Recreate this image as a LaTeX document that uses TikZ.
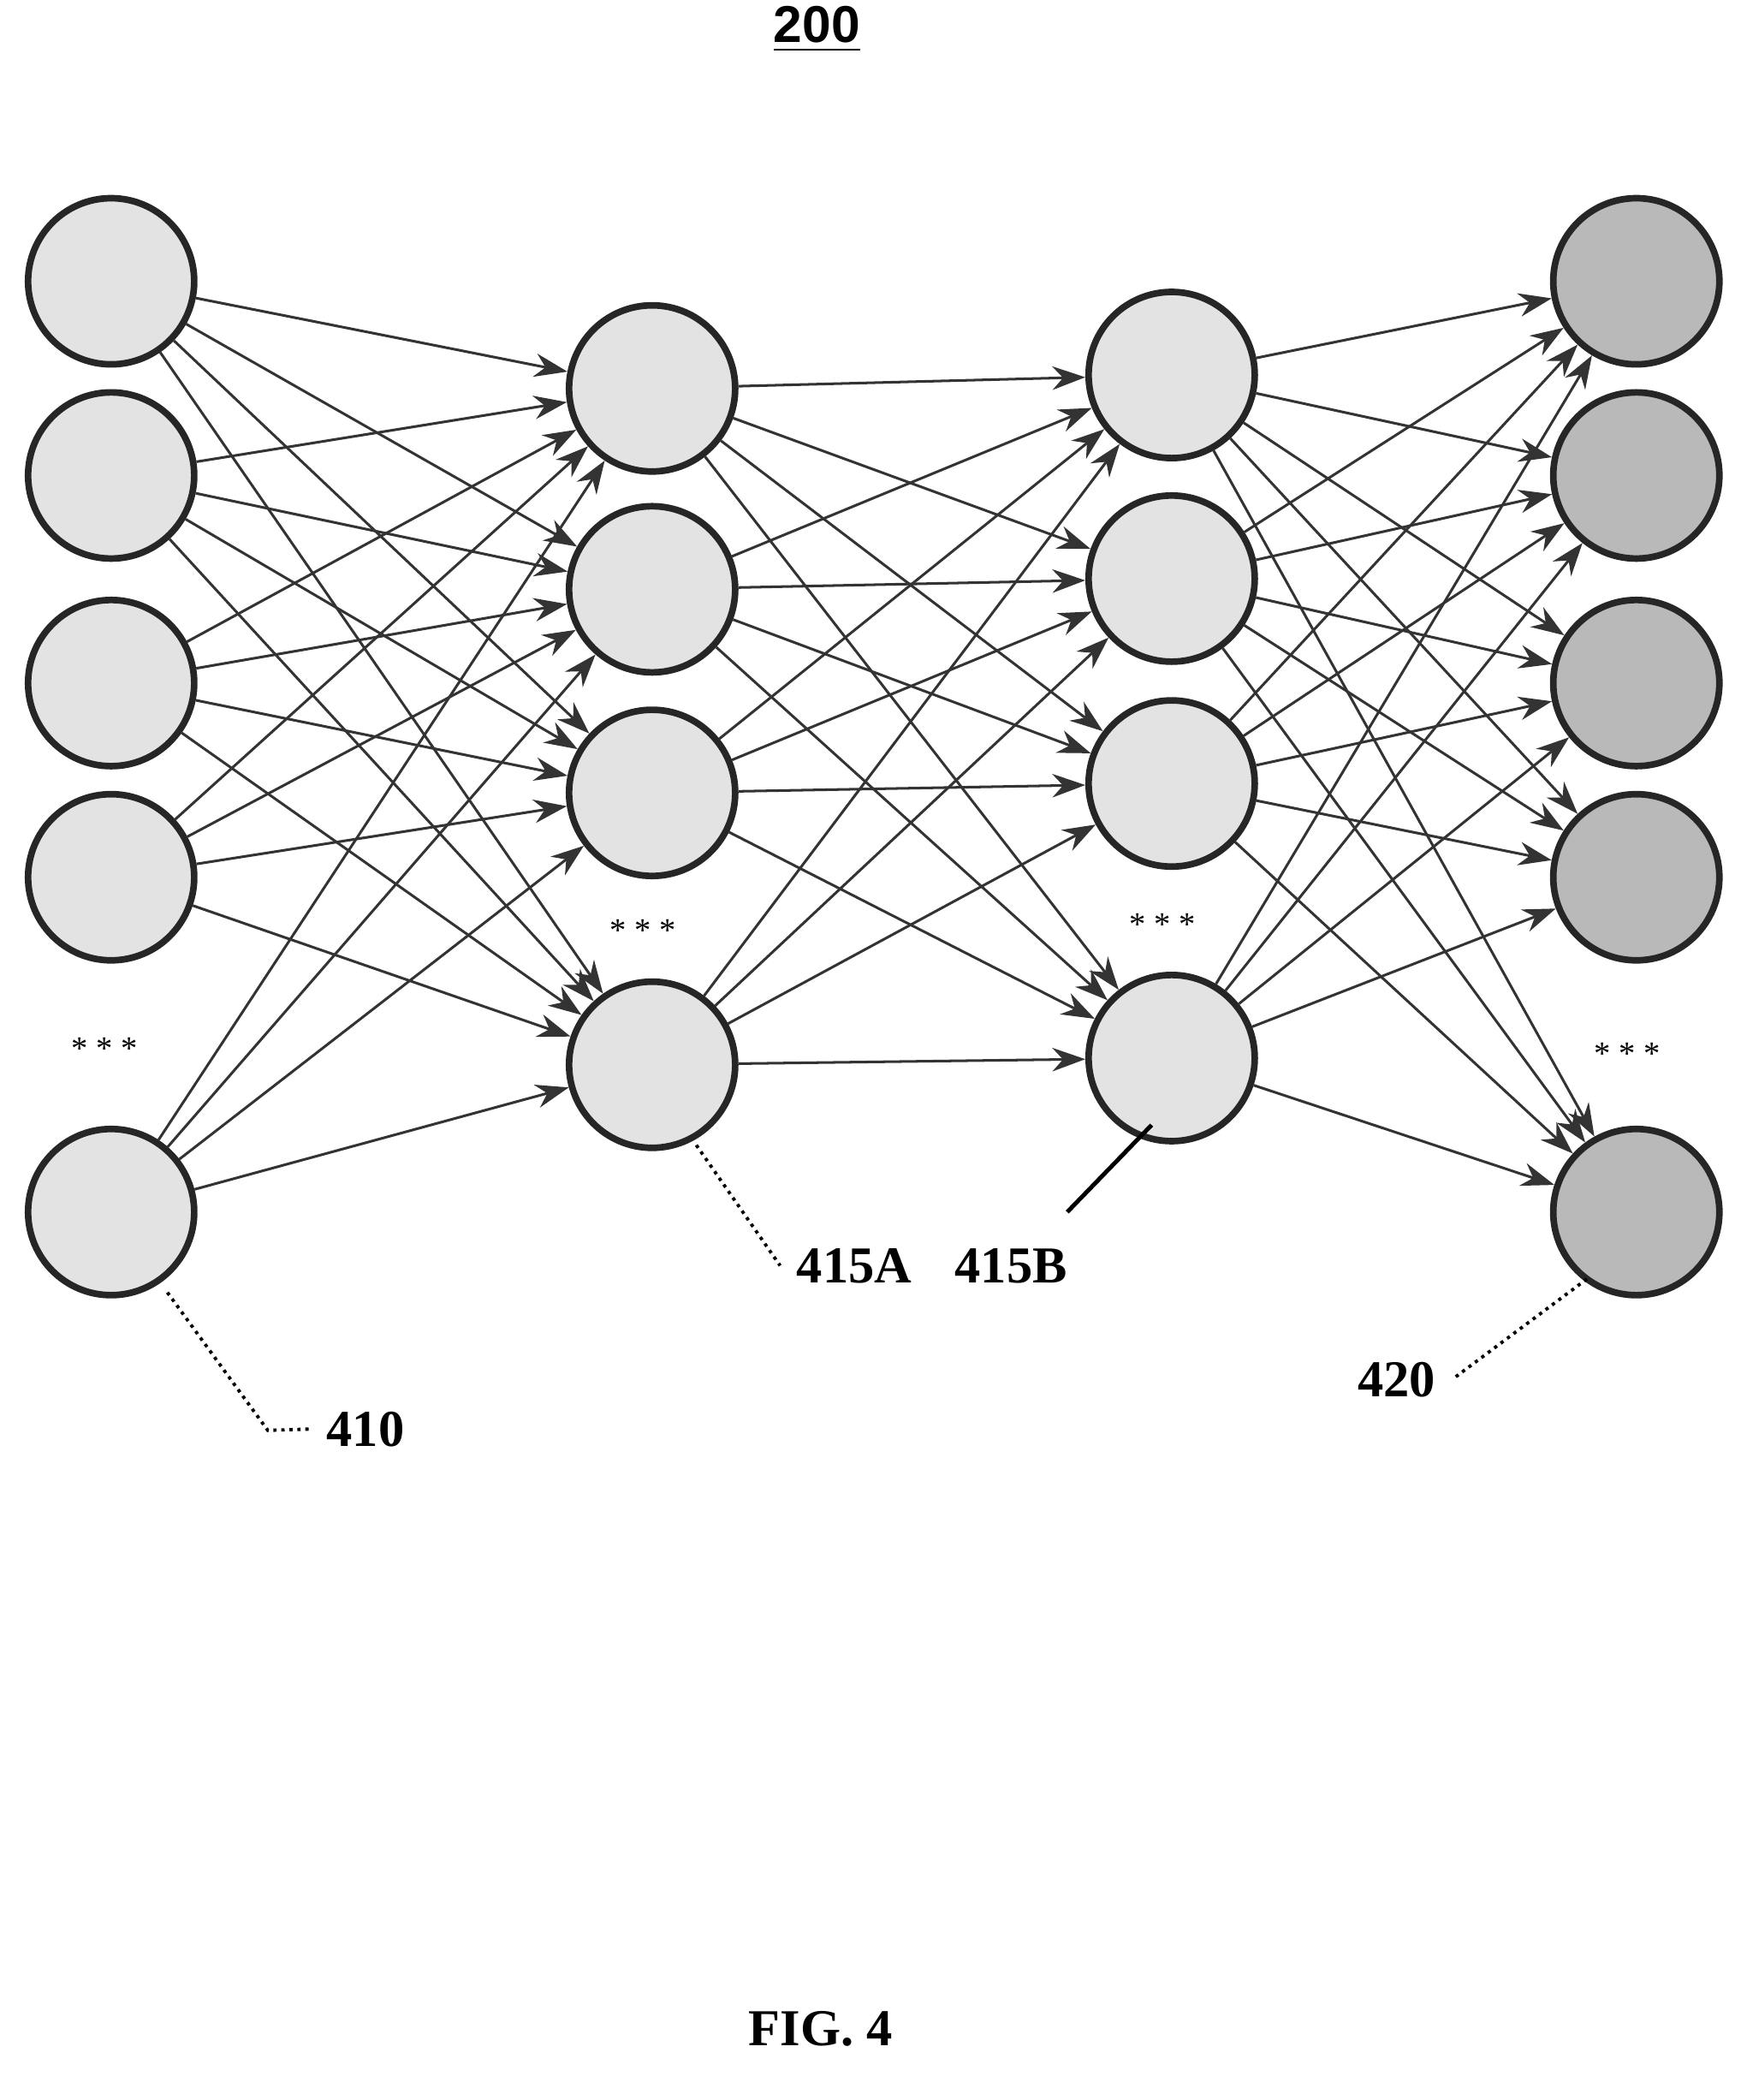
\documentclass[tikz,border=0pt]{standalone}
\usepackage{fontspec}
\setmainfont{Liberation Serif}
\setsansfont{Liberation Sans}
\usetikzlibrary{arrows.meta}
\begin{document}
\begin{tikzpicture}[x=0.01cm,y=-0.01cm,
  neu/.style={circle,draw=black!85,line width=1.4pt,minimum size=1.24cm,inner sep=0pt,fill=gray!22},
  outn/.style={neu,fill=gray!55},
  con/.style={-{Stealth[length=7pt,width=5pt]},line width=0.55pt,black!80},
  lab/.style={font=\bfseries\fontsize{11}{13}\selectfont},
  dts/.style={font=\scriptsize}]
\useasboundingbox (0,0) rectangle (1300,1568);
\foreach \i/\y in {1/210,2/355,3/510,4/655,5/905}{\node[neu] (i\i) at (83,\y) {};}
\foreach \i/\y in {1/290,2/440,3/592,4/795}{\node[neu] (a\i) at (487,\y) {};}
\foreach \i/\y in {1/280,2/432,3/585,4/790}{\node[neu] (b\i) at (875,\y) {};}
\foreach \i/\y in {1/210,2/355,3/510,4/655,5/905}{\node[outn] (o\i) at (1222,\y) {};}
\foreach \s in {1,...,5}{\foreach \t in {1,...,4}{\draw[con] (i\s) -- (a\t);}}
\foreach \s in {1,...,4}{\foreach \t in {1,...,4}{\draw[con] (a\s) -- (b\t);}}
\foreach \s in {1,...,4}{\foreach \t in {1,...,5}{\draw[con] (b\s) -- (o\t);}}
\node[dts] (d1) at (78,783) {* * *};
\node[dts] (d2) at (480,695) {* * *};
\node[dts] (d3) at (868,690) {* * *};
\node[dts] (d4) at (1215,787) {* * *};
\node[font=\sffamily\bfseries\fontsize{11}{13}\selectfont] (t) at (610,22) {\underline{200}};
\node[lab] (l410) at (273,1067) {410};
\node[lab] (l415a) at (638,945) {415A};
\node[lab] (l415b) at (755,945) {415B};
\node[lab] (l420) at (1043,1030) {420};
\node[lab] (fig) at (613,1515) {FIG. 4};
\coordinate (c1) at (200,1068);
\draw[densely dotted,line width=0.7pt] (125,965) -- (c1) -- (l410.west);
\draw[densely dotted,line width=0.7pt] (520,855) -- (l415a.west);
\draw[line width=0.9pt] (860,840) -- (797,905);
\draw[densely dotted,line width=0.7pt] (1185,955) -- (l420.east);
\end{tikzpicture}
\end{document}
